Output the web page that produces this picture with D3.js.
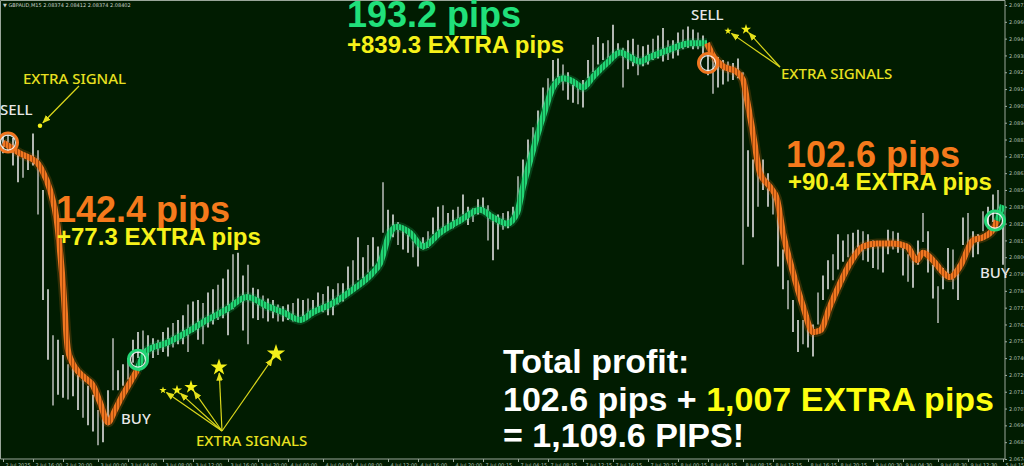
<!DOCTYPE html>
<meta charset="utf-8">
<style>
body { margin: 0; background: #011c01; }
svg { display: block; }
.axis text { font-family: "DejaVu Sans", sans-serif; font-size: 5px; fill: #b4c0b4; }
.axis line { stroke: #a0aca0; }
.axis path { display: none; }
.big { font-family: "Liberation Sans", Arial, sans-serif; font-weight: bold; }
.lbl { font-family: "Noto Sans", sans-serif; font-weight: 500; }
</style>
<svg width="1024" height="466"></svg>
<script src="https://d3js.org/d3.v7.min.js"></script>
<script>

// GBPAUD M15 bars (one every ~4 bars of the original, left to right)
var high = [
  2.0885,2.0886,2.0884,2.0876,2.0871,2.0873,2.0887,2.0876,2.0850,2.0785,
  2.0755,2.0752,2.0742,2.0736,2.0734,2.0732,2.0727,2.0722,2.0716,2.0706,
  2.0709,2.0719,2.0753,2.0732,2.0736,2.0740,2.0752,2.0757,2.0758,2.0755,
  2.0753,2.0752,2.0757,2.0760,2.0763,2.0765,2.0768,2.0775,2.0777,2.0778,
  2.0776,2.0783,2.0785,2.0788,2.0792,2.0798,2.0808,2.0809,2.0794,2.0801,
  2.0786,2.0785,2.0781,2.0779,2.0778,2.0775,2.0774,2.0775,2.0776,2.0779,
  2.0778,2.0779,2.0778,2.0783,2.0782,2.0787,2.0785,2.0789,2.0789,2.0800,
  2.0804,2.0819,2.0806,2.0814,2.0819,2.0813,2.0855,2.0837,2.0834,2.0829,
  2.0824,2.0823,2.0817,2.0816,2.0819,2.0823,2.0832,2.0839,2.0840,2.0835,
  2.0837,2.0839,2.0847,2.0839,2.0838,2.0844,2.0845,2.0840,2.0830,2.0834,
  2.0835,2.0836,2.0839,2.0859,2.0870,2.0883,2.0891,2.0902,2.0917,2.0923,
  2.0935,2.0936,2.0932,2.0927,2.0919,2.0917,2.0922,2.0935,2.0945,2.0950,
  2.0946,2.0948,2.0958,2.0946,2.0943,2.0948,2.0949,2.0945,2.0944,2.0945,
  2.0949,2.0951,2.0956,2.0948,2.0948,2.0953,2.0955,2.0957,2.0955,2.0953,
  2.0951,2.0938,2.0937,2.0937,2.0935,2.0934,2.0933,2.0936,2.0927,2.0876,
  2.0870,2.0865,2.0870,2.0861,2.0850,2.0844,2.0811,2.0791,2.0778,2.0765,
  2.0765,2.0768,2.0762,2.0783,2.0794,2.0804,2.0808,2.0821,2.0817,2.0821,
  2.0822,2.0824,2.0823,2.0821,2.0817,2.0816,2.0814,2.0824,2.0823,2.0822,
  2.0814,2.0808,2.0804,2.0817,2.0835,2.0823,2.0801,2.0787,2.0799,2.0812,
  2.0811,2.0801,2.0832,2.0835,2.0823,2.0821,2.0836,2.0839,2.0847,2.0850,
  2.0834]

var low = [
  2.0874,2.0875,2.0866,2.0855,2.0858,2.0863,2.0866,2.0834,2.0778,2.0739,
  2.0709,2.0716,2.0714,2.0713,2.0715,2.0706,2.0701,2.0696,2.0692,2.0683,
  2.0685,2.0696,2.0719,2.0719,2.0722,2.0726,2.0737,2.0740,2.0742,2.0739,
  2.0740,2.0742,2.0744,2.0741,2.0747,2.0749,2.0749,2.0744,2.0757,2.0752,
  2.0749,2.0760,2.0762,2.0765,2.0766,2.0755,2.0772,2.0778,2.0758,2.0749,
  2.0766,2.0765,2.0766,2.0764,2.0766,2.0764,2.0764,2.0765,2.0764,2.0766,
  2.0767,2.0768,2.0768,2.0770,2.0770,2.0768,2.0768,2.0775,2.0777,2.0783,
  2.0785,2.0791,2.0792,2.0796,2.0800,2.0800,2.0822,2.0822,2.0819,2.0814,
  2.0811,2.0809,2.0806,2.0800,2.0811,2.0812,2.0821,2.0823,2.0824,2.0824,
  2.0825,2.0830,2.0834,2.0827,2.0829,2.0834,2.0835,2.0817,2.0804,2.0811,
  2.0824,2.0825,2.0829,2.0840,2.0853,2.0866,2.0873,2.0883,2.0901,2.0909,
  2.0921,2.0919,2.0915,2.0909,2.0907,2.0906,2.0904,2.0923,2.0927,2.0932,
  2.0935,2.0936,2.0938,2.0938,2.0917,2.0929,2.0931,2.0925,2.0931,2.0932,
  2.0935,2.0936,2.0934,2.0935,2.0936,2.0938,2.0942,2.0943,2.0942,2.0942,
  2.0938,2.0925,2.0913,2.0917,2.0919,2.0921,2.0922,2.0923,2.0801,2.0826,
  2.0819,2.0839,2.0850,2.0839,2.0834,2.0800,2.0785,2.0772,2.0757,2.0744,
  2.0749,2.0747,2.0741,2.0762,2.0778,2.0785,2.0791,2.0798,2.0803,2.0806,
  2.0808,2.0811,2.0804,2.0803,2.0799,2.0798,2.0796,2.0808,2.0811,2.0809,
  2.0794,2.0790,2.0786,2.0801,2.0816,2.0796,2.0779,2.0763,2.0785,2.0794,
  2.0785,2.0778,2.0814,2.0808,2.0806,2.0808,2.0823,2.0825,2.0829,2.0834,
  2.0801]

// trend line (bar position, price)
var maIdx = [0, 1, 3.4, 5.4, 6.8, 7.8, 9.4, 10.8, 12, 13, 14.4, 16.4, 18, 19.4, 21, 22.4, 23.8, 25.4, 26.8,
  28.8, 32.8, 36.8, 40.8, 44.8, 48.8, 52.8, 56, 59.4, 62, 66, 70, 74, 75.4, 77.4, 78.8, 81.4, 84, 87.4,
  91.4, 95.4, 98, 100.8, 102.8, 104, 106, 108, 110, 112, 114, 116, 118, 120.8, 123.4, 125.4, 127.4,
  129.4, 133.4, 137.4, 140.8,
  142, 144, 146.8, 148, 148.8, 150, 151.4, 153.4, 154.8, 156, 158, 160, 162, 163.4, 165.4, 167.4,
  169.4, 172, 174.8, 178, 180.8, 182.8, 184, 186, 188, 189.4, 191.4, 194, 196, 198, 198.8, 200]
var maVal = [2.0881, 2.0879, 2.0874, 2.0871, 2.0868, 2.0863, 2.0850, 2.0829, 2.0788, 2.0745, 2.0734, 2.0727, 2.0722, 2.0711, 2.0698, 2.0706, 2.0715, 2.0724, 2.0732,
  2.0745, 2.0750, 2.0757, 2.0765, 2.0772, 2.0780, 2.0774, 2.0770, 2.0765, 2.0770, 2.0776, 2.0785, 2.0796, 2.0802, 2.0822, 2.0826, 2.0822, 2.0813, 2.0822,
  2.0830, 2.0837, 2.0832, 2.0828, 2.0835, 2.0852, 2.0876, 2.0898, 2.0917, 2.0923, 2.0921, 2.0917, 2.0924, 2.0933, 2.0940, 2.0937, 2.0934,
  2.0937, 2.0942, 2.0946, 2.0946,
  2.0938, 2.0931, 2.0927, 2.0922, 2.0909, 2.0887, 2.0861, 2.0852, 2.0844, 2.0822, 2.0796, 2.0774, 2.0757, 2.0758, 2.0774, 2.0789,
  2.0802, 2.0813, 2.0815, 2.0815, 2.0813, 2.0804, 2.0809, 2.0804, 2.0796, 2.0793, 2.0800, 2.0817, 2.0819, 2.0824, 2.0830, 2.0840]

// trend changes
var trendStart = [0, 26.8, 140.8, 198.8]
var trendEnd = [26.8, 140.8, 198.8, 200]
var trendType = ["sell", "buy", "sell", "buy"]

// entry signals (circled)
var signalIdx = [1, 27, 141, 198.4]
var signalPrice = [2.0881, 2.0739, 2.0933, 2.0830]
var signalType = ["sell", "buy", "sell", "buy"]

// extra signals (stars)
var starIdx = [32, 34.8, 37.6, 43.2, 54.6, 145, 148.6, 7.4]
var starPrice = [2.0719, 2.0719, 2.0721, 2.0734, 2.0743, 2.0954, 2.0955, 2.0892]
var starSize = [4, 8, 14, 22, 26, 4, 8, 4]
var starGroup = [0, 0, 0, 0, 0, 1, 1, 2]

var priceTicks = [2.06740, 2.06850, 2.06960, 2.07070, 2.07180, 2.07290, 2.07400, 2.07510, 2.07620,
  2.07730, 2.07840, 2.07950, 2.08060, 2.08170, 2.08280, 2.08390, 2.08500, 2.08610, 2.08720,
  2.08830, 2.08940, 2.09050, 2.09160, 2.09270, 2.09380, 2.09490, 2.09600, 2.09710]

var timeIdx = [0, 6, 12, 19, 25, 32, 38, 45, 51, 57, 64, 70, 77, 83, 90, 96, 103, 109, 116, 122,
  129, 135, 141, 148, 154, 161, 167, 174, 180, 187, 193, 200]
var timeLabels = ["2 Jul 2025", "2 Jul 16:00", "2 Jul 20:00", "3 Jul 00:00", "3 Jul 04:00", "3 Jul 08:00",
  "3 Jul 12:00", "3 Jul 16:00", "3 Jul 20:00", "4 Jul 00:00", "4 Jul 04:00", "4 Jul 08:00", "4 Jul 12:00",
  "4 Jul 16:00", "4 Jul 20:00", "7 Jul 00:15", "7 Jul 04:15", "7 Jul 08:15", "7 Jul 12:15", "7 Jul 16:15",
  "7 Jul 20:15", "8 Jul 00:15", "8 Jul 04:15", "8 Jul 08:15", "8 Jul 12:15", "8 Jul 16:15", "8 Jul 20:15",
  "9 Jul 00:30", "9 Jul 04:30", "9 Jul 08:30", "9 Jul 12:30", "5 Jul 15:00"]

var colors = { sell: "#ef7620", buy: "#22d474" }
var stripe = { sell: "#a94c0e", buy: "#0f8a44" }

var svg = d3.select("svg"),
    plotRight = 1005,
    plotBottom = 459

var x = d3.scaleLinear().domain([0, 200]).range([3, 1003]),
    y = d3.scaleLinear().domain([2.0674, 2.0971]).range([plotBottom, 5])

svg.append("rect").attr("width", 1024).attr("height", 466).attr("fill", "#011c01")

// hatch patterns for the trend band
var defs = svg.append("defs")
Object.keys(colors).forEach(function(k) {
  var p = defs.append("pattern").attr("id", "hatch-" + k)
      .attr("patternUnits", "userSpaceOnUse").attr("width", 3).attr("height", 10)
  p.append("rect").attr("width", 3).attr("height", 10).attr("fill", colors[k])
  p.append("rect").attr("x", 2).attr("width", 1).attr("height", 10).attr("fill", stripe[k])
})
defs.append("marker").attr("id", "arrow").attr("viewBox", "0 0 10 10")
    .attr("refX", 9).attr("refY", 5).attr("markerWidth", 7).attr("markerHeight", 7)
    .attr("orient", "auto-start-reverse")
  .append("path").attr("d", "M0,1L10,5L0,9z").attr("fill", "#e4e01c")

// frame
svg.append("path")
    .attr("d", "M0.5," + plotBottom + "V0.5H" + plotRight + "V" + plotBottom + "Z")
    .attr("fill", "none").attr("stroke", "#9aa69a").attr("stroke-width", 1)

// axes
svg.append("g").attr("class", "axis")
    .attr("transform", "translate(" + plotRight + ",0)")
    .call(d3.axisRight(y).tickValues(priceTicks).tickSize(2).tickPadding(2).tickFormat(d3.format(".5f")))

var xa = svg.append("g").attr("class", "axis")
    .attr("transform", "translate(0," + plotBottom + ")")
    .call(d3.axisBottom(x).tickValues(timeIdx).tickSize(3).tickPadding(1)
      .tickFormat(function(d, i) { return timeLabels[i] }))
xa.selectAll("text").attr("text-anchor", "start").attr("dx", 2)

// bars
svg.append("g").selectAll("line")
    .data(high)
    .enter().append("line")
    .attr("x1", function(d, i) { return x(i) })
    .attr("x2", function(d, i) { return x(i) })
    .attr("y1", function(d) { return y(d) })
    .attr("y2", function(d, i) { return y(low[i]) })
    .attr("stroke", function(d, i) { return i % 3 == 1 ? "#b0b4b0" : "#e0e0e0" })
    .attr("stroke-width", 1.6)

// trend band
var maPts = maIdx.map(function(d, i) { return { i: d, v: maVal[i] } })
var line = d3.line().x(function(d) { return x(d.i) }).y(function(d) { return y(d.v) })
    .curve(d3.curveMonotoneX)

trendType.forEach(function(t, k) {
  var seg = maPts.filter(function(d) { return d.i >= trendStart[k] && d.i <= trendEnd[k] })
  svg.append("path").attr("d", line(seg)).attr("fill", "none")
      .attr("stroke", colors[t]).attr("stroke-opacity", 0.2).attr("stroke-width", 10)
  svg.append("path").attr("d", line(seg)).attr("fill", "none")
      .attr("stroke", "url(#hatch-" + t + ")").attr("stroke-width", 6)
})

// entry rings
signalIdx.forEach(function(d, k) {
  var cx = x(d), cy = y(signalPrice[k])
  svg.append("circle").attr("cx", cx).attr("cy", cy).attr("r", 9.5)
      .attr("fill", "none").attr("stroke", colors[signalType[k]]).attr("stroke-width", 3)
  svg.append("circle").attr("cx", cx).attr("cy", cy).attr("r", 7.5)
      .attr("fill", "none").attr("stroke", "#ffffff").attr("stroke-opacity", 0.85).attr("stroke-width", 1.2)
})

// extra signals with arrows
var arrowFrom = [[222, 431], [780, 67], [79, 86]]
starIdx.forEach(function(d, k) {
  var sx = x(d), sy = y(starPrice[k]), o = arrowFrom[starGroup[k]]
  var dx = o[0] - sx, dy = o[1] - sy, len = Math.sqrt(dx * dx + dy * dy)
  var gap = 3 + Math.sqrt(starSize[k]) * 0.6
  svg.append("line").attr("x1", o[0]).attr("y1", o[1])
      .attr("x2", sx + dx / len * gap).attr("y2", sy + dy / len * gap)
      .attr("stroke", "#dcd81c").attr("stroke-width", 1.2).attr("marker-end", "url(#arrow)")
  svg.append("path")
      .attr("transform", "translate(" + sx + "," + sy + ")")
      .attr("d", d3.symbol().type(starGroup[k] == 2 ? d3.symbolCircle : d3.symbolStar).size(starSize[k] * 4)())
      .attr("fill", "#f4f01a")
})

// texts
function txt(t, px, py, cls, size, fill) {
  return svg.append("text").attr("class", cls).attr("x", px).attr("y", py)
      .attr("font-size", size).attr("fill", fill).text(t)
}

svg.append("text").attr("x", 3).attr("y", 7)
    .attr("font-family", "DejaVu Sans").attr("font-size", 5).attr("fill", "#c8d0c8")
    .text("\u25BC GBPAUD,M15  2.08374 2.08412 2.08374 2.08402")

txt("SELL", 0, 115, "lbl", 15, "#e8e8e8")
txt("EXTRA SIGNAL", 23, 84, "lbl", 15, "#e8e020")
txt("142.4 pips", 56, 222, "big", 36, "#f57a1c")
txt("+77.3 EXTRA pips", 57, 245, "big", 24, "#f6f21a")
txt("BUY", 121, 424, "lbl", 15, "#e8e8e8")
txt("EXTRA SIGNALS", 196, 446, "lbl", 15, "#e8e020")
txt("193.2 pips", 347, 27, "big", 36, "#20e07a")
txt("+839.3 EXTRA pips", 347, 53, "big", 24, "#f6f21a")
txt("SELL", 691, 20, "lbl", 15, "#e8e8e8")
txt("EXTRA SIGNALS", 781, 79, "lbl", 15, "#e8e020")
txt("102.6 pips", 786, 167, "big", 36, "#f57a1c")
txt("+90.4 EXTRA pips", 788, 190, "big", 24, "#f6f21a")
txt("BUY", 980, 278, "lbl", 15, "#e8e8e8")

txt("Total profit:", 503, 373, "big", 34, "#ffffff")
var l2 = txt("102.6 pips + ", 503, 411, "big", 34, "#ffffff")
l2.append("tspan").attr("fill", "#ffff10").text("1,007 EXTRA pips")
txt("= 1,109.6 PIPS!", 503, 447, "big", 34, "#ffffff")

</script>
</html>
